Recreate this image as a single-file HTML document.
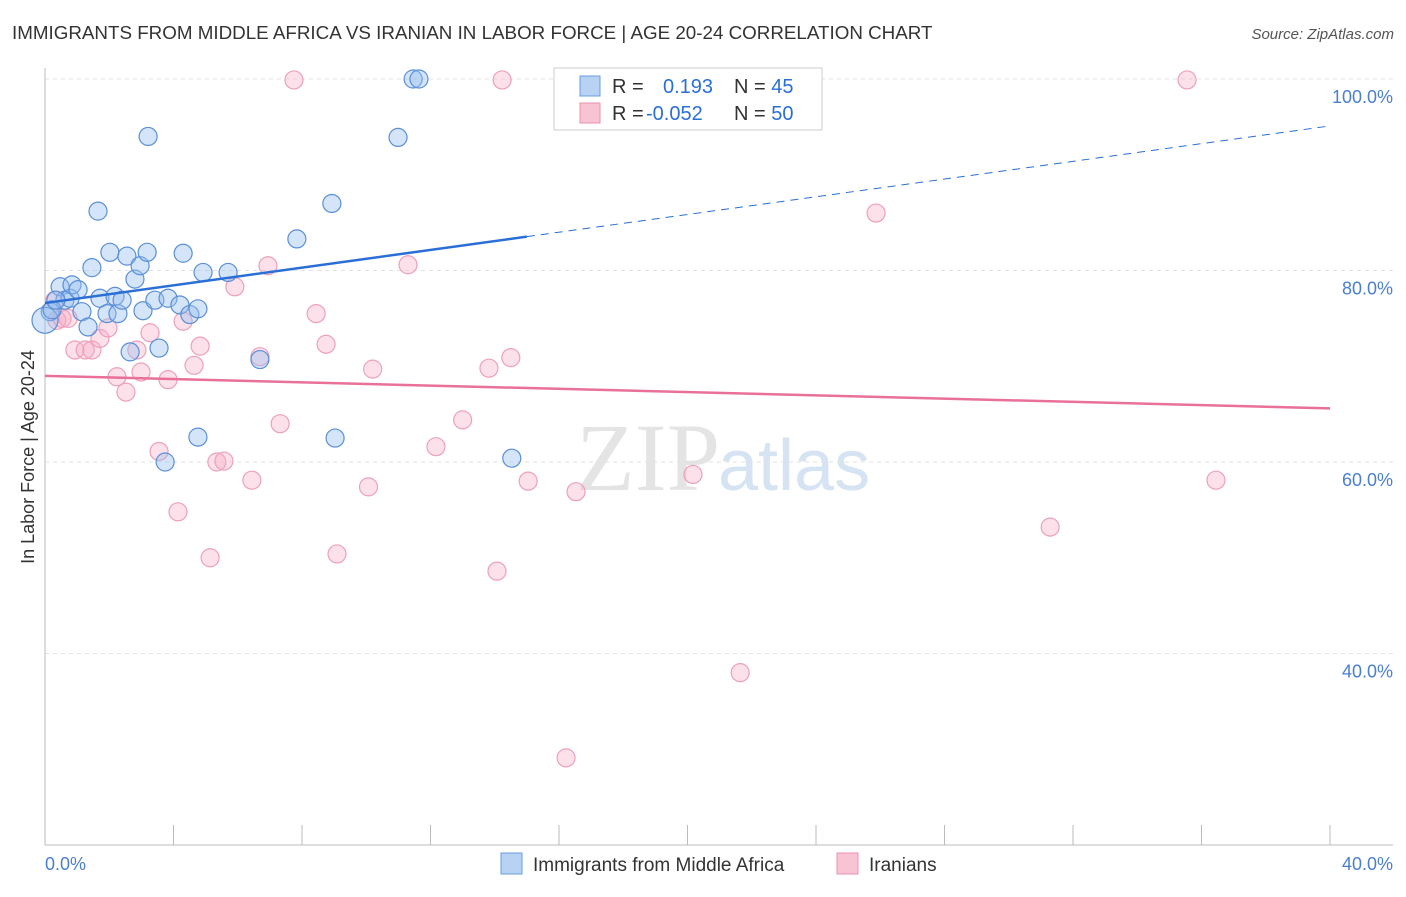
<!DOCTYPE html>
<html><head><meta charset="utf-8"><style>
body{margin:0;background:#fff;font-family:"Liberation Sans",sans-serif}
</style></head><body>
<svg id="c" width="1406" height="892" xmlns="http://www.w3.org/2000/svg">
<text x="12" y="39" font-size="18.8" fill="#333">IMMIGRANTS FROM MIDDLE AFRICA VS IRANIAN IN LABOR FORCE | AGE 20-24 CORRELATION CHART</text>
<text x="1394" y="39" font-size="15" fill="#555" font-style="italic" text-anchor="end">Source: ZipAtlas.com</text>
<text x="720" y="490" font-size="96" fill="#e4e4e4" font-family="Liberation Serif,serif" text-anchor="end">ZIP</text>
<text x="718" y="490" font-size="72" fill="#d6e3f3">atlas</text>
<g id="grid"></g><g id="axes"></g><g id="pts"></g><g id="lines"></g>
<text transform="translate(34,457) rotate(-90)" font-size="18" fill="#333" text-anchor="middle">In Labor Force | Age 20-24</text>
<text x="45" y="870" font-size="18" fill="#4a7fd0">0.0%</text>
<text x="1393" y="870" font-size="18" fill="#4a7fd0" text-anchor="end">40.0%</text>
<g>
<rect x="554" y="68" width="268" height="62" fill="#fff" stroke="#ccc"/>
<rect x="580" y="76" width="20" height="20" fill="#b8d2f4" stroke="#6a9ce0"/>
<rect x="580" y="103" width="20" height="20" fill="#f8c4d4" stroke="#e890ae"/>
<text x="612" y="93" font-size="20" fill="#333">R = <tspan fill="#2a6fd6" x="663">0.193</tspan><tspan x="734" fill="#333">N = </tspan><tspan fill="#2a6fd6">45</tspan></text>
<text x="612" y="120" font-size="20" fill="#333">R = <tspan fill="#2a6fd6" x="646">-0.052</tspan><tspan x="734" fill="#333">N = </tspan><tspan fill="#2a6fd6">50</tspan></text>
</g>
<g>
<rect x="501" y="853" width="21" height="21" fill="#b8d2f4" stroke="#6a9ce0"/>
<text x="533" y="871" font-size="19" fill="#333">Immigrants from Middle Africa</text>
<rect x="837" y="853" width="21" height="21" fill="#f8c4d4" stroke="#e890ae"/>
<text x="869" y="871" font-size="19" fill="#333">Iranians</text>
</g>
</svg>
<script>
const yTicks=[40,60,80,100];
const xTicks=[0,4,8,12,16,20,24,28,32,36,40];
const blueX=[0.16,0.47,0.62,0.78,0.84,1.03,1.15,1.34,1.46,1.65,1.71,1.93,2.02,2.18,2.27,2.40,2.55,2.65,2.80,2.96,3.05,3.18,3.21,3.42,3.55,3.74,3.83,4.20,4.30,4.51,4.76,4.76,4.92,5.70,6.69,7.84,8.93,9.03,10.99,11.46,11.64,14.53,0,0.22,0.34];
const blueY=[75.7,78.3,76.9,77.1,78.5,78.0,75.7,74.1,80.3,86.2,77.1,75.5,81.9,77.3,75.5,76.9,81.5,71.5,79.1,80.5,75.8,81.9,94.0,76.9,71.9,60.0,77.1,76.4,81.8,75.4,76.0,62.6,79.8,79.8,70.7,83.3,87.0,62.5,93.9,100,100,60.4,74.8,75.9,76.9];
const pinkX=[0.31,0.37,0.53,0.72,0.93,1.25,1.46,1.71,1.96,2.24,2.52,2.86,2.99,3.27,3.55,3.83,4.14,4.30,4.64,4.83,5.14,5.35,5.57,5.91,6.44,6.69,6.94,7.32,7.75,8.44,8.75,9.09,10.07,10.2,11.3,12.17,13.0,13.82,14.07,14.23,14.5,15.04,16.53,16.22,18.46,20.17,21.64,25.87,31.29,35.55,36.45];
const pinkY=[76.9,74.8,75.0,75.0,71.7,71.7,71.7,72.9,74.0,68.9,67.3,71.7,69.4,73.5,61.1,68.6,54.8,74.7,70.1,72.1,50.0,60.0,60.1,78.3,58.1,71.0,80.5,64.0,99.9,75.5,72.3,50.4,57.4,69.7,80.6,61.6,64.4,69.8,48.6,99.9,70.9,58.0,56.9,29.1,99.9,58.7,38.0,86.0,53.2,99.9,58.1];
const blueLine=[76.6,95.1], blueSolidEnd=15.0;
const pinkLine=[69.0,65.6];
const X=v=>45+v/40*1285, Y=v=>79+(100-v)/20*191.5;
const NS="http://www.w3.org/2000/svg";
function mk(p,t,a){const e=document.createElementNS(NS,t);for(const k in a)e.setAttribute(k,a[k]);document.getElementById(p).appendChild(e);return e;}
yTicks.forEach(t=>{
 const l=mk('grid','line',{x1:45,x2:1393,y1:Y(t),y2:Y(t),stroke:'#e2e2e2','stroke-dasharray':'4,4'});
 
 
 const tx=mk('grid','text',{x:1393,y:Y(t)+24,'font-size':18,fill:'#4a7fd0','text-anchor':'end'});tx.textContent=t.toFixed(1)+'%';
 
 
});
const ax=mk('axes','line',{x1:45,x2:45,y1:68,y2:845,stroke:'#bbb'});


const bx=mk('axes','line',{x1:45,x2:1393,y1:845,y2:845,stroke:'#bbb'});


xTicks.forEach(t=>{const l=mk('axes','line',{x1:X(t),x2:X(t),y1:825,y2:845,stroke:'#bbb'});
 
 });
pinkX.forEach((x,i)=>{const c=mk('pts','circle',{cx:X(x),cy:Y(pinkY[i]),r:9,fill:'rgba(245,170,195,0.35)',stroke:'#eda0ba','stroke-width':1.2});
 
 });
blueX.forEach((x,i)=>{const c=mk('pts','circle',{cx:X(x),cy:Y(blueY[i]),r:i==42?13:9,fill:'rgba(150,190,240,0.4)',stroke:'#5a8fd8','stroke-width':1.2});
 
 });
const by=x=>blueLine[0]+(blueLine[1]-blueLine[0])*x/40;
const b1=mk('lines','line',{x1:X(0),y1:Y(by(0)),x2:X(blueSolidEnd),y2:Y(by(blueSolidEnd)),stroke:'#2a6fd6','stroke-width':2.5});


const b2=mk('lines','line',{x1:X(blueSolidEnd),y1:Y(by(blueSolidEnd)),x2:X(40),y2:Y(by(40)),stroke:'#2a6fd6','stroke-width':1,'stroke-dasharray':'8,6'});


const p1=mk('lines','line',{x1:X(0),y1:Y(pinkLine[0]),x2:X(40),y2:Y(pinkLine[1]),stroke:'#e8709a','stroke-width':2.5});


</script>
</body></html>
